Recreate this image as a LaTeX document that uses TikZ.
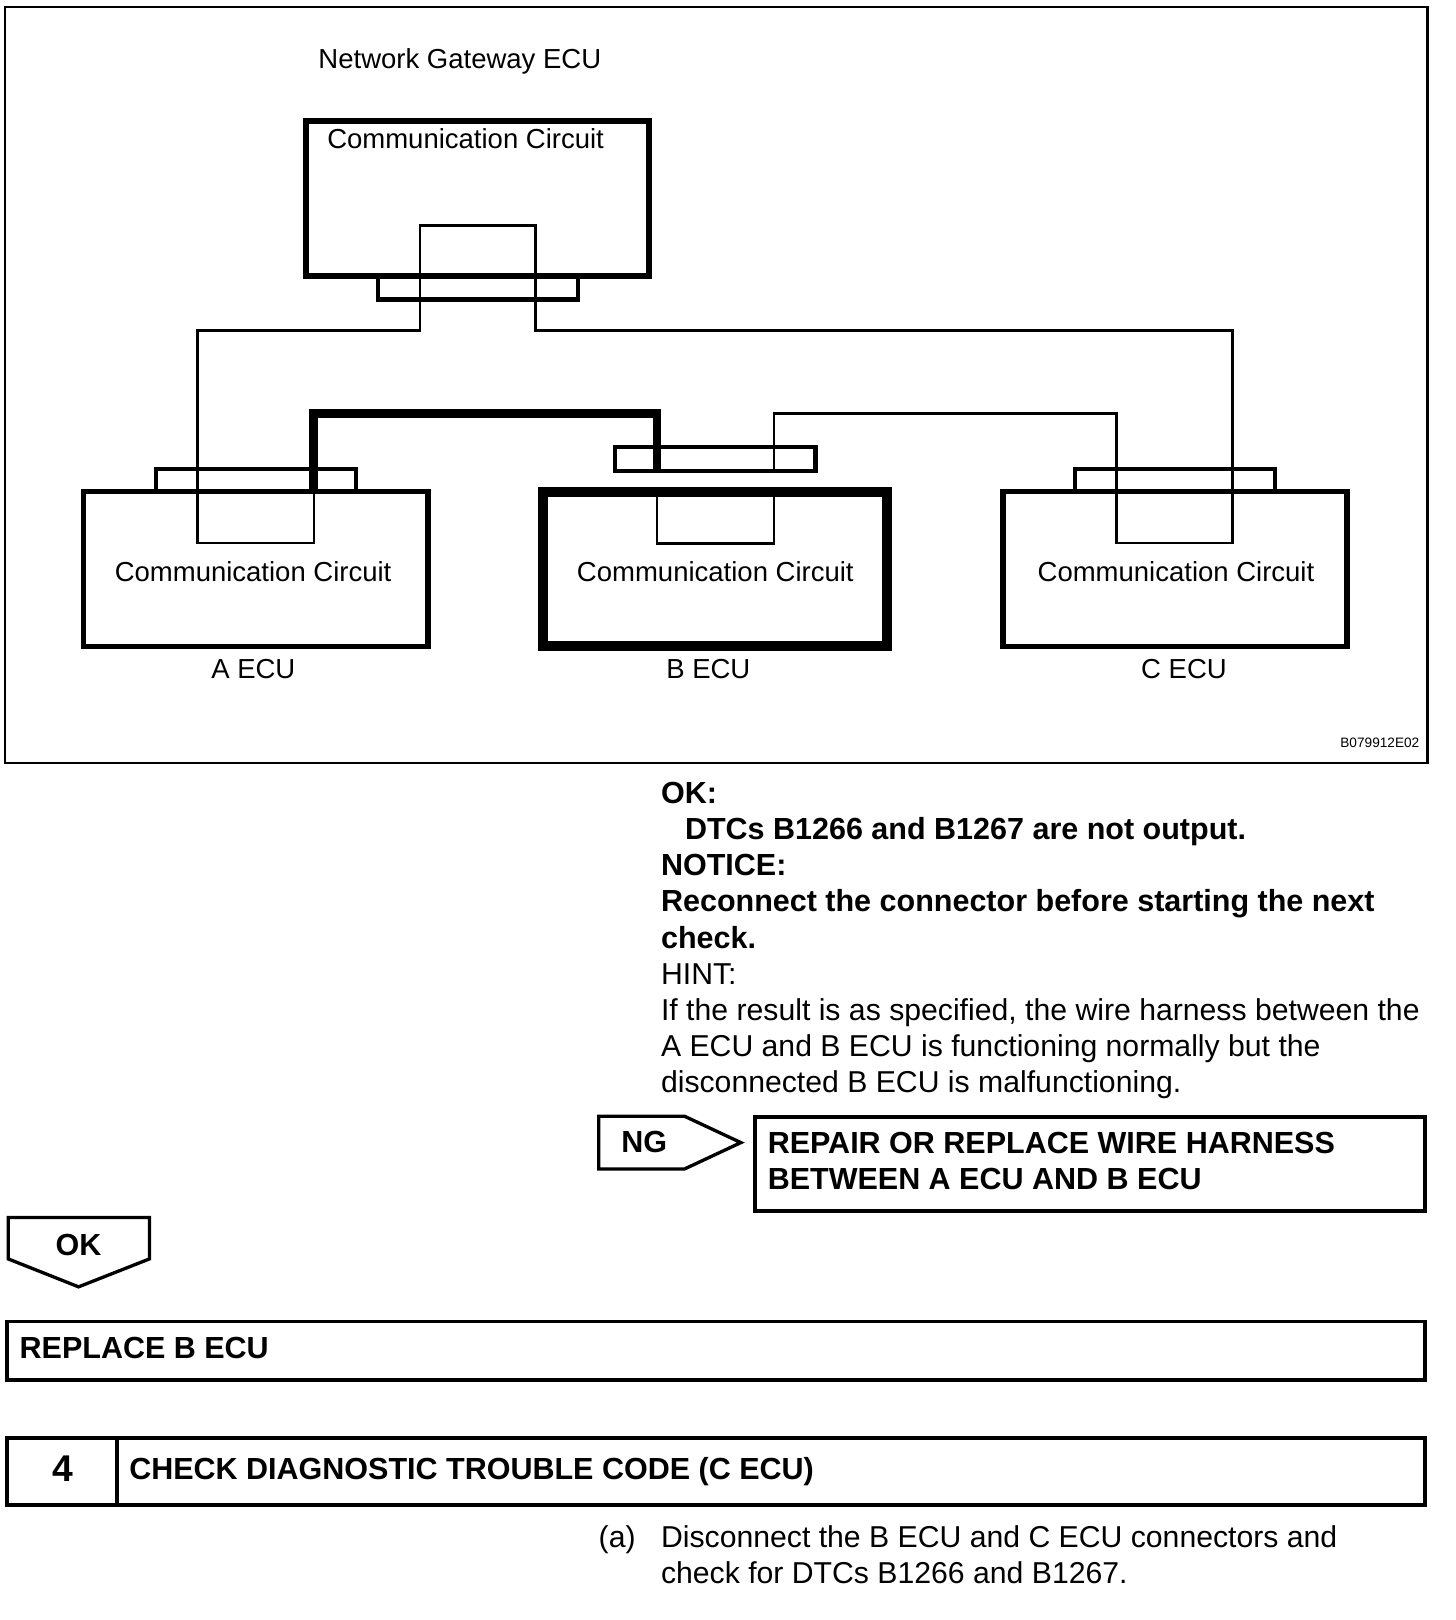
\documentclass[tikz,border=0pt]{standalone}
\usepackage{fontspec}
\setmainfont{Liberation Sans}
\begin{document}
\begin{tikzpicture}[x=0.5pt,y=-0.5pt,
  dgm/.style={inner sep=0pt,outer sep=0pt,anchor=base west,font=\fontsize{13.3}{16}\selectfont},
  dctr/.style={inner sep=0pt,outer sep=0pt,anchor=base,font=\fontsize{13.3}{16}\selectfont},
  txt/.style={inner sep=0pt,outer sep=0pt,anchor=base west,font=\fontsize{14.6}{16}\selectfont},
  bld/.style={inner sep=0pt,outer sep=0pt,anchor=base west,font=\fontsize{14.75}{16}\selectfont\bfseries},
  wire/.style={draw,line width=1.25pt,line join=miter},
  thickwire/.style={draw,line width=4.2pt,line join=miter},
  ecu/.style={draw,line width=2.6pt},
  conn/.style={draw,line width=2.1pt},
  panel/.style={draw,line width=1.9pt},
  tag/.style={draw,line width=1.6pt,line join=miter}]
\useasboundingbox (0,0) rectangle (1408,1566.7);
% frame
\coordinate (f1) at (5,7); \coordinate (f2) at (1380.5,738);
\draw[line width=1pt] (f1) rectangle (f2);
% connectors of ECUs
\draw[conn] (365.5,267) rectangle (559,289.8);
\draw[conn] (151,475) -- (151,453.5) -- (344.5,453.5) -- (344.5,475);
\draw[conn] (1039.5,475) -- (1039.5,453.5) -- (1233,453.5) -- (1233,475);
\draw[conn] (595,432) rectangle (788.5,455.5);
% ECU boxes
\draw[ecu,line width=2.8pt] (296.2,117.4) rectangle (627.3,266.7);
\draw[ecu] (81,475.5) rectangle (414,625.5);
\draw[ecu,line width=4.9pt] (525.5,476) rectangle (857.5,625);
\draw[ecu] (970,475.5) rectangle (1302.5,625.5);
% wire corner points
\coordinate (a1) at (303.5,473); \coordinate (a2) at (303.5,525); \coordinate (a3) at (191,525);
\coordinate (a4) at (191,319.5); \coordinate (g1) at (406,319.5); \coordinate (g2) at (406,218);
\coordinate (g3) at (518,218); \coordinate (g4) at (518,319.5); \coordinate (c1) at (1192,319.5);
\coordinate (c2) at (1192,525); \coordinate (c3) at (1080,525); \coordinate (c4) at (1080,400);
\coordinate (b1) at (748.5,400); \coordinate (b1e) at (748.5,456); \coordinate (b2s) at (748.5,480);
\coordinate (b2) at (748.5,525.5); \coordinate (b3) at (635.5,525.5);
\coordinate (b4) at (635.5,480); \coordinate (b5) at (635.5,456); \coordinate (b6) at (635.5,400);
\coordinate (a0) at (303.5,400);
\draw[wire] (a1) -- (a2) -- (a3) -- (a4) -- (g1) -- (g2) -- (g3) -- (g4) -- (c1) -- (c2) -- (c3) -- (c4) -- (b1) -- (b1e);
\draw[wire] (b2s) -- (b2) -- (b3) -- (b4);
\draw[thickwire] (b5) -- (b6) -- (a0) -- (a1);
% labels in diagram
\node[dgm] (tnet) at (308,66.5) {Network Gateway ECU};
\node[dgm] (tcg) at (316.5,144) {Communication Circuit};
\node[dgm] (tca) at (111,562.5) {Communication Circuit};
\node[dgm] (tcb) at (558,562.5) {Communication Circuit};
\node[dgm] (tcc) at (1003.5,562.5) {Communication Circuit};
\node[dctr] (la) at (245,656.5) {A ECU};
\node[dctr] (lb) at (685,656.5) {B ECU};
\node[dctr] (lc) at (1145,656.5) {C ECU};
\node[inner sep=0pt,anchor=base east,font=\fontsize{6.6}{8}\selectfont] (code) at (1373,722.5) {B079912E02};
% body text
\node[bld] (t1) at (639.3,777) {OK:};
\node[bld] (t2) at (662.5,811.5) {DTCs B1266 and B1267 are not output.};
\node[bld] (t3) at (639.3,846.5) {NOTICE:};
\node[bld] (t4) at (639.3,881.3) {Reconnect the connector before starting the next};
\node[bld] (t5) at (639.3,917) {check.};
\node[txt] (t6) at (639.3,952) {HINT:};
\node[txt] (t7) at (639.3,987) {If the result is as specified, the wire harness between the};
\node[txt] (t8) at (639.3,1021.3) {A ECU and B ECU is functioning normally but the};
\node[txt] (t9) at (639.3,1056.3) {disconnected B ECU is malfunctioning.};
% NG
\draw[tag] (579,1079.5) -- (662,1079.5) -- (716.5,1105) -- (662,1130.5) -- (579,1130.5) -- cycle;
\node[bld,anchor=base] (ng) at (623,1115) {NG};
\draw[panel] (730.5,1080.5) rectangle (1378.5,1171);
\node[bld] (r1) at (742.5,1115.3) {REPAIR OR REPLACE WIRE HARNESS};
\node[bld] (r2) at (742.5,1150.3) {BETWEEN A ECU AND B ECU};
% OK
\draw[tag] (8,1177.5) -- (144.5,1177.5) -- (144.5,1217.5) -- (76,1244.5) -- (8,1217.5) -- cycle;
\node[bld,anchor=base] (ok) at (76,1214) {OK};
% Replace
\draw[panel] (6.5,1278) rectangle (1378.5,1334.5);
\node[bld] (rb) at (19,1314) {REPLACE B ECU};
% Step 4
\draw[panel] (6.5,1391) rectangle (1378.5,1455.5);
\draw[panel,line width=1.7pt] (113,1391) -- (113,1455.5);
\node[bld,anchor=base,font=\fontsize{18}{20}\selectfont\bfseries] (n4) at (60.5,1432.5) {4};
\node[bld] (ch) at (125,1431) {CHECK DIAGNOSTIC TROUBLE CODE (C ECU)};
% (a)
\node[txt] (pa) at (579,1497) {(a)};
\node[txt] (a1t) at (639.3,1497) {Disconnect the B ECU and C ECU connectors and};
\node[txt] (a2t) at (639.3,1531) {check for DTCs B1266 and B1267.};
\end{tikzpicture}
\end{document}
